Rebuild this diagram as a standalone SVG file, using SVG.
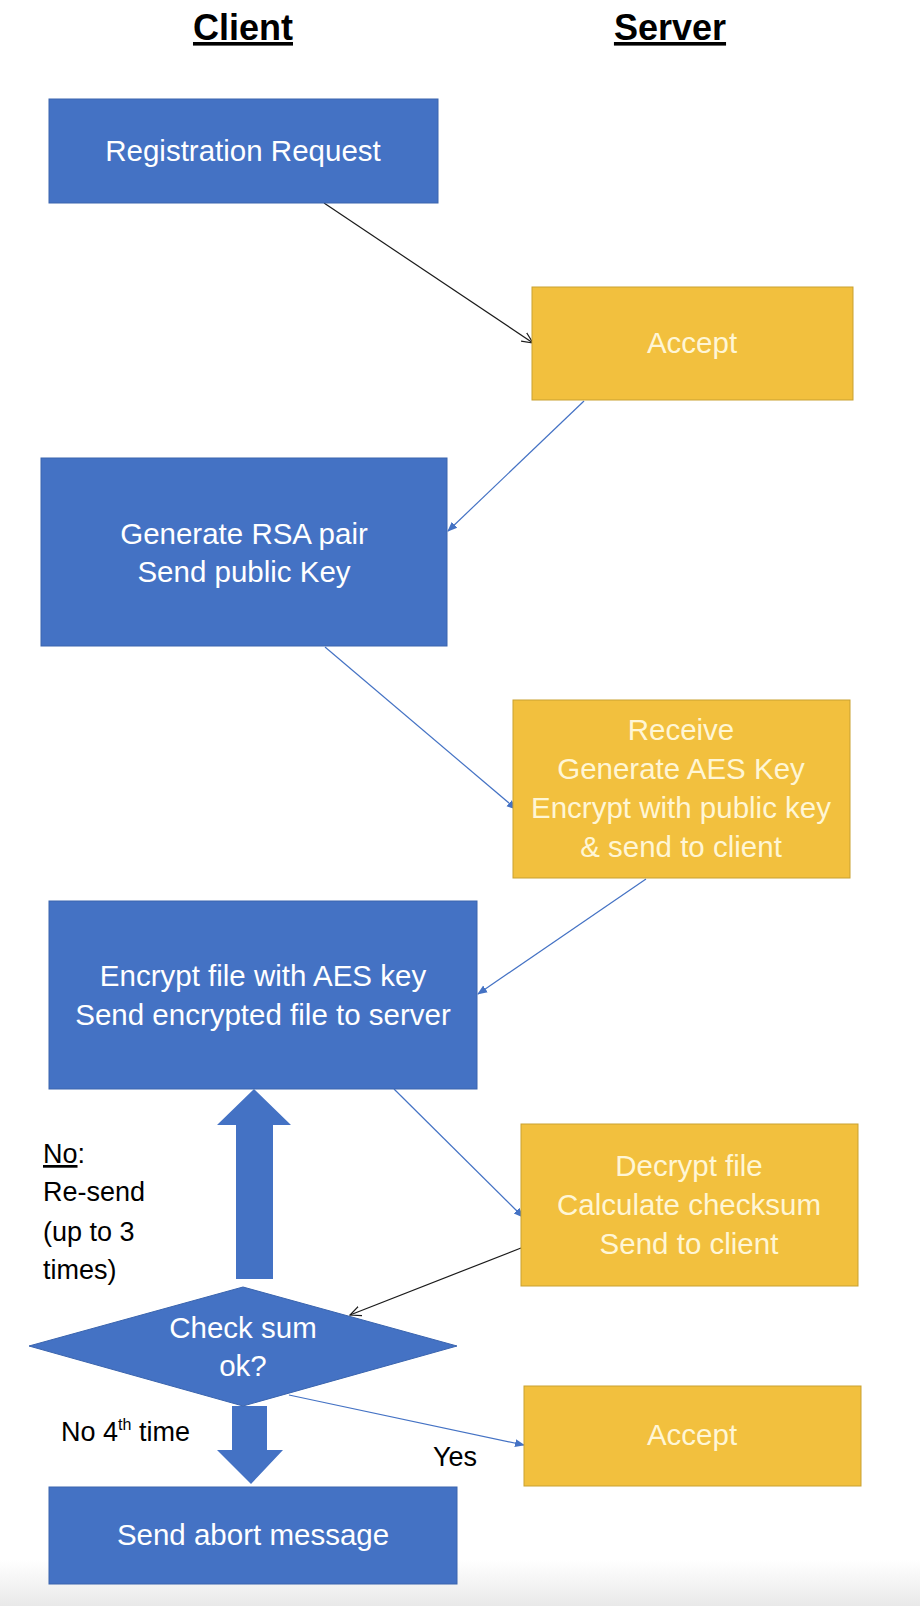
<svg xmlns="http://www.w3.org/2000/svg" width="920" height="1606" viewBox="0 0 920 1606">
<style>
.blue{fill:#4472C4;stroke:#3A64AE;stroke-width:1}
.gold{fill:#F2C03E;stroke:#C9A130;stroke-width:1}
.wt{fill:#FFFFFF;font-family:"Liberation Sans",Arial,sans-serif;font-size:29.5px;text-anchor:middle}
.yt{fill:#FFF6D5;font-family:"Liberation Sans",Arial,sans-serif;font-size:29.5px;text-anchor:middle}
.bt{fill:#000000;font-family:"Liberation Sans",Arial,sans-serif;font-size:27px}
.title{fill:#000;font-family:"Liberation Sans",Arial,sans-serif;font-size:36px;font-weight:bold;text-anchor:middle;text-decoration:underline}
.cb{stroke:#4472C4;stroke-width:1.2;fill:none}
.ck{stroke:#1a1a1a;stroke-width:1.2;fill:none}
</style>
<defs>
<marker id="ab" markerWidth="10" markerHeight="10" refX="9" refY="5" orient="auto" markerUnits="userSpaceOnUse">
<path d="M0,1 L10,5 L0,9 Z" fill="#4472C4"/>
</marker>
<marker id="ak" markerWidth="12" markerHeight="12" refX="11" refY="6" orient="auto" markerUnits="userSpaceOnUse">
<path d="M0,1 L11,6 L0,11" fill="none" stroke="#1a1a1a" stroke-width="1.2"/>
</marker>
<linearGradient id="bg" x1="0" y1="0" x2="0" y2="1">
<stop offset="0" stop-color="#FFFFFF"/>
<stop offset="1" stop-color="#E9E9E9"/>
</linearGradient>
</defs>
<rect x="0" y="0" width="920" height="1606" fill="#FFFFFF"/>
<rect x="0" y="1560" width="920" height="46" fill="url(#bg)"/>
<g id="titles">
<text class="title" x="243" y="40">Client</text>
<text class="title" x="670" y="40">Server</text>
</g>
<g id="connectors">
<line class="ck" x1="324" y1="203" x2="533" y2="343" marker-end="url(#ak)"/>
<line class="cb" x1="584" y1="401" x2="448" y2="531" marker-end="url(#ab)"/>
<line class="cb" x1="325" y1="647" x2="516" y2="809" marker-end="url(#ab)"/>
<line class="cb" x1="646" y1="879" x2="478" y2="994" marker-end="url(#ab)"/>
<line class="cb" x1="394" y1="1089" x2="523" y2="1217" marker-end="url(#ab)"/>
<line class="ck" x1="521" y1="1248" x2="350" y2="1315" marker-end="url(#ak)"/>
<line class="cb" x1="289" y1="1395" x2="524" y2="1445" marker-end="url(#ab)"/>
<polygon id="arrow-up" fill="#4472C4" points="254,1089 291,1125 273,1125 273,1279 236,1279 236,1125 217,1125"/>
<polygon id="arrow-down" fill="#4472C4" points="232,1406 267,1406 267,1450 283,1450 251,1484 217,1450 232,1450"/>
</g>
<g id="n-reg">
<rect class="blue" x="49" y="99" width="389" height="104"/>
<text class="wt" x="243" y="161">Registration Request</text>
</g>
<g id="n-accept1">
<rect class="gold" x="532" y="287" width="321" height="113"/>
<text class="yt" x="692" y="353">Accept</text>
</g>
<g id="n-rsa">
<rect class="blue" x="41" y="458" width="406" height="188"/>
<text class="wt" x="244" y="544">Generate RSA pair</text>
<text class="wt" x="244" y="582">Send public Key</text>
</g>
<g id="n-receive">
<rect class="gold" x="513" y="700" width="337" height="178"/>
<text class="yt" x="681" y="740">Receive</text>
<text class="yt" x="681" y="779">Generate AES Key</text>
<text class="yt" x="681" y="818">Encrypt with public key</text>
<text class="yt" x="681" y="857">&amp; send to client</text>
</g>
<g id="n-encrypt">
<rect class="blue" x="49" y="901" width="428" height="188"/>
<text class="wt" x="263" y="986">Encrypt file with AES key</text>
<text class="wt" x="263" y="1025">Send encrypted file to server</text>
</g>
<g id="n-decrypt">
<rect class="gold" x="521" y="1124" width="337" height="162"/>
<text class="yt" x="689" y="1176">Decrypt file</text>
<text class="yt" x="689" y="1215">Calculate checksum</text>
<text class="yt" x="689" y="1254">Send to client</text>
</g>
<g id="n-check">
<polygon class="blue" points="243,1287 457,1346 243,1406 29,1346"/>
<text class="wt" x="243" y="1338">Check sum</text>
<text class="wt" x="243" y="1376">ok?</text>
</g>
<g id="n-accept2">
<rect class="gold" x="524" y="1386" width="337" height="100"/>
<text class="yt" x="692" y="1445">Accept</text>
</g>
<g id="n-abort">
<rect class="blue" x="49" y="1487" width="408" height="97"/>
<text class="wt" x="253" y="1545">Send abort message</text>
</g>
<g id="labels">
<text class="bt" x="43" y="1163"><tspan text-decoration="underline">No</tspan>:</text>
<text class="bt" x="43" y="1201">Re-send</text>
<text class="bt" x="43" y="1241">(up to 3</text>
<text class="bt" x="43" y="1279">times)</text>
<text class="bt" x="61" y="1441">No 4<tspan font-size="16" dy="-11">th</tspan><tspan dy="11"> time</tspan></text>
<text class="bt" x="433" y="1466">Yes</text>
</g>
</svg>
